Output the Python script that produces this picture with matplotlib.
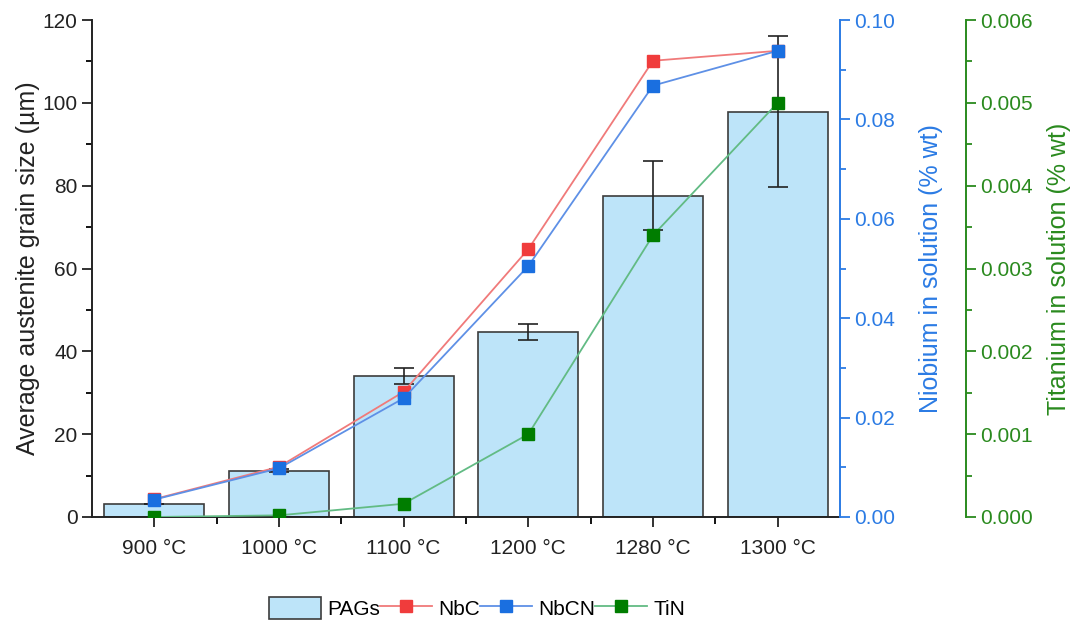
import matplotlib
matplotlib.use("Agg")
import matplotlib.pyplot as plt
from matplotlib.ticker import MultipleLocator, FormatStrFormatter
import numpy as np

plt.rcParams['font.family'] = ['Liberation Sans', 'DejaVu Sans']

temperatures = ["900 °C", "1000 °C", "1100 °C", "1200 °C", "1280 °C", "1300 °C"]
pags = [3.2, 11.2, 34.0, 44.7, 77.6, 97.9]
pags_err = [0.0, 0.3, 1.9, 1.95, 8.4, 18.2]
nbc = [0.0036, 0.0101, 0.0252, 0.0539, 0.0918, 0.0938]
nbcn = [0.0035, 0.0098, 0.0239, 0.0505, 0.0868, 0.0938]
tin = [0.0, 0.00002, 0.00016, 0.00100, 0.00340, 0.00500]

BAR_FILL = "#bde4f9"
BAR_EDGE = "#3c3c3c"
BLUE_AX = "#2b7be4"
GREEN_AX = "#2a8a1e"
TEXT = "#222222"

fig = plt.figure(figsize=(10.78, 6.21), dpi=100)
ax = fig.add_axes([92 / 1078, 1 - 517 / 621, (840 - 92) / 1078, (517 - 20) / 621])
x = np.arange(len(temperatures))

bars = ax.bar(x, pags, width=0.8, color=BAR_FILL, edgecolor=BAR_EDGE, linewidth=1.2,
              label="PAGs", zorder=2)
ax.errorbar(x, pags, yerr=pags_err, fmt="none", ecolor=TEXT, elinewidth=1.2,
            capsize=7, capthick=1.2, zorder=3)

ax.set_xlim(-0.5, len(temperatures) - 0.5)
ax.set_ylim(0, 120)
ax.set_xticks(x)
ax.set_xticklabels(temperatures)
ax.set_xticks(x[:-1] + 0.5, minor=True)
ax.yaxis.set_major_locator(MultipleLocator(20))
ax.yaxis.set_minor_locator(MultipleLocator(10))
ax.tick_params(axis="both", which="major", labelsize=15, length=7, width=1.3,
               direction="out", colors=TEXT)
ax.tick_params(axis="x", which="minor", length=5, width=1.3, direction="out")
ax.tick_params(axis="y", which="minor", length=4, width=1.3, direction="out")
ax.tick_params(axis="x", pad=9)
ax.set_ylabel("Average austenite grain size (µm)", fontsize=18, color=TEXT, labelpad=2)
ax.spines["top"].set_visible(False)
ax.spines["right"].set_visible(False)
for s in ("left", "bottom"):
    ax.spines[s].set_linewidth(1.4)
    ax.spines[s].set_color(TEXT)

# Niobium axis
ax_nb = ax.twinx()
ax_nb.set_ylim(0, 0.10)
ax_nb.plot(x, nbc, color="#f07a7a", lw=1.3, marker="s", ms=8,
           mfc="#f03c3c", mec="#f03c3c", label="NbC", zorder=3)
ax_nb.plot(x, nbcn, color="#5e90e6", lw=1.3, marker="s", ms=8,
           mfc="#1a6fe0", mec="#1a6fe0", label="NbCN", zorder=3)
ax_nb.yaxis.set_major_locator(MultipleLocator(0.02))
ax_nb.yaxis.set_minor_locator(MultipleLocator(0.01))
ax_nb.yaxis.set_major_formatter(FormatStrFormatter("%.2f"))
ax_nb.tick_params(axis="y", which="major", labelsize=15, length=7, width=1.3,
                  colors=BLUE_AX, direction="out")
ax_nb.tick_params(axis="y", which="minor", length=4, width=1.3, colors=BLUE_AX,
                  direction="out")
ax_nb.spines["right"].set_color(BLUE_AX)
ax_nb.spines["right"].set_linewidth(1.4)
for s in ("top", "left", "bottom"):
    ax_nb.spines[s].set_visible(False)
ax_nb.set_ylabel("Niobium in solution (% wt)", fontsize=18, color=BLUE_AX, labelpad=17)

# Titanium axis
ax_ti = ax.twinx()
ax_ti.spines["right"].set_position(("axes", (966 - 92) / (840 - 92)))
ax_ti.set_ylim(0, 0.006)
ax_ti.plot(x, tin, color="#62bb84", lw=1.3, marker="s", ms=8,
           mfc="#007d00", mec="#007d00", label="TiN", zorder=3)
ax_ti.yaxis.set_major_locator(MultipleLocator(0.001))
ax_ti.yaxis.set_minor_locator(MultipleLocator(0.0005))
ax_ti.yaxis.set_major_formatter(FormatStrFormatter("%.3f"))
ax_ti.tick_params(axis="y", which="major", labelsize=15, length=7, width=1.3,
                  colors=GREEN_AX, direction="out")
ax_ti.tick_params(axis="y", which="minor", length=4, width=1.3, colors=GREEN_AX,
                  direction="out")
ax_ti.spines["right"].set_color(GREEN_AX)
ax_ti.spines["right"].set_linewidth(1.4)
for s in ("top", "left", "bottom"):
    ax_ti.spines[s].set_visible(False)
ax_ti.set_ylabel("Titanium in solution (% wt)", fontsize=18, color=GREEN_AX, labelpad=10)

handles = [bars] + ax_nb.get_lines() + ax_ti.get_lines()
labels = [h.get_label() for h in handles]
fig.legend(handles, labels, loc="center", bbox_to_anchor=(477 / 1078, 1 - 608 / 621),
           ncol=4, frameon=False, fontsize=15, handlelength=2.5, handleheight=1.3,
           handletextpad=0.3, columnspacing=0.0)

fig.savefig("out.png", dpi=100)
